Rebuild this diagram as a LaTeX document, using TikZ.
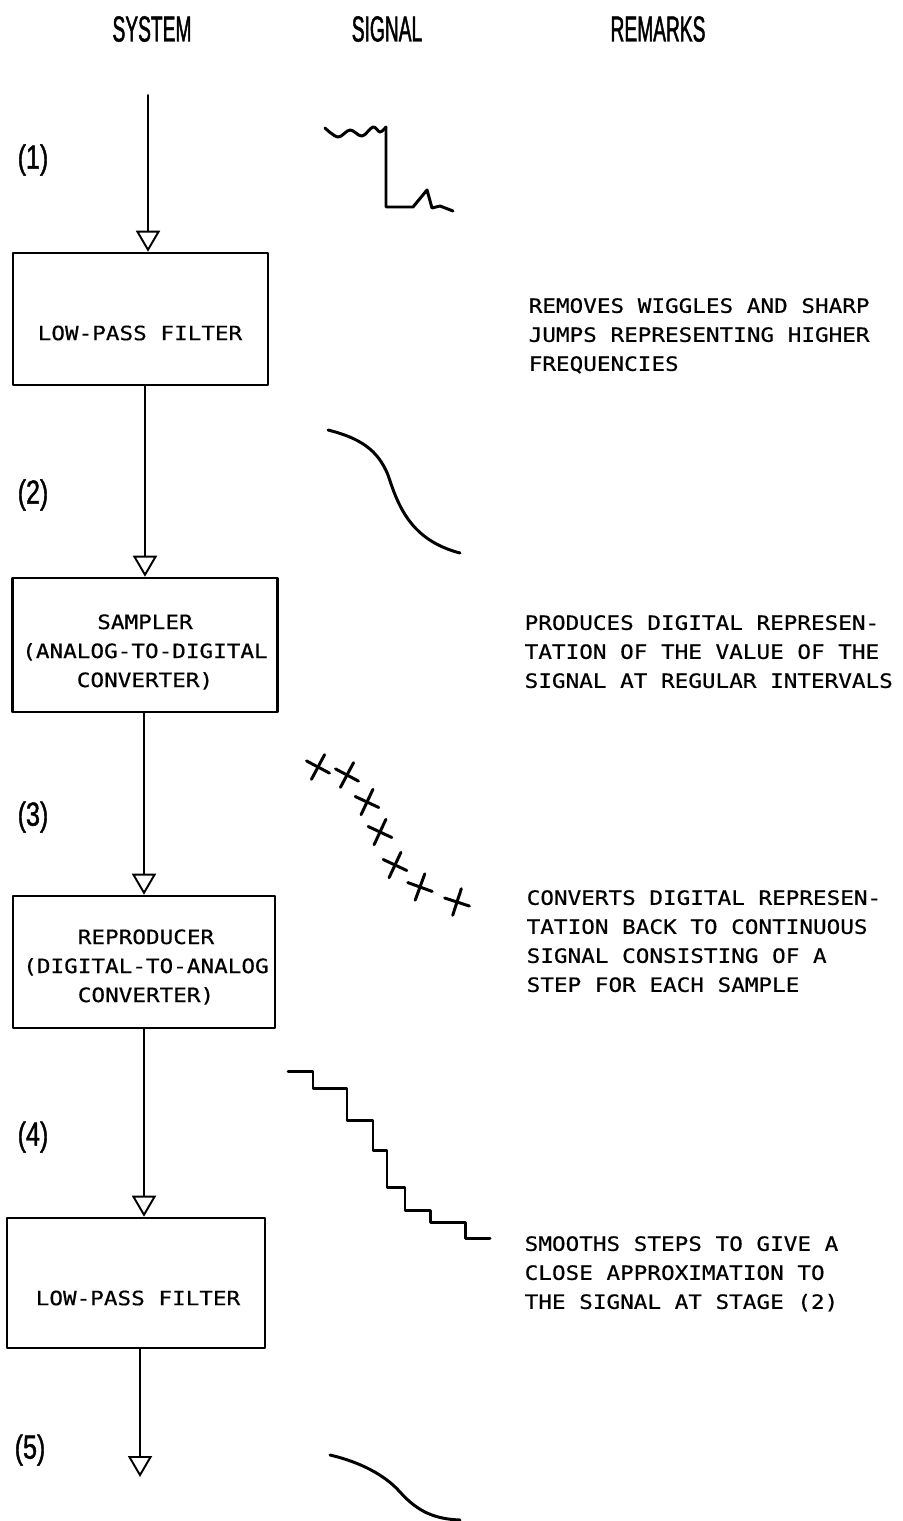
\documentclass[tikz,border=0pt]{standalone}
\usepackage{fontspec}
\usetikzlibrary{arrows.meta,positioning}
\newfontfamily\headfont[FakeStretch=0.53, FakeBold=1.2]{Liberation Sans}
\newfontfamily\stagefont[FakeStretch=0.75, FakeBold=1.2]{Liberation Sans}
\newfontfamily\typefont[FakeStretch=1.15, FakeBold=0.5]{DejaVu Sans Mono}
\begin{document}
\begin{tikzpicture}[x=0.01cm, y=-0.01cm, line cap=round, line join=round,
    head/.style={font=\headfont\fontsize{10.3}{12}\selectfont, inner sep=0pt},
    stage/.style={font=\stagefont\fontsize{9.5}{11}\selectfont, inner sep=0pt},
    unit/.style={draw, line width=0.7pt, inner sep=0pt},
    unittext/.style={font=\typefont\fontsize{5.6}{8.25}\selectfont, align=center, inner sep=0pt},
    remark/.style={font=\typefont\fontsize{5.6}{8.25}\selectfont, align=left, inner sep=0pt, anchor=north west},
    flow/.style={line width=0.55pt, -{Triangle[open, length=2.1mm, width=2.4mm]}},
    sig/.style={line width=0.85pt}]
  \useasboundingbox (0,0) rectangle (903,1521);
  % headings
  \node[head] (hsys) at (152,29) {SYSTEM};
  \node[head] (hsig) at (387,29) {SIGNAL};
  \node[head] (hrem) at (658,29) {REMARKS};
  % system column
  \node[unit, minimum width=2.55cm, minimum height=1.32cm] (lpfa) at (140.5,319) {};
  \node[unit, minimum width=2.65cm, minimum height=1.34cm] (smp) at (145,645) {};
  \node[unit, minimum width=2.62cm, minimum height=1.32cm] (rep) at (144,962) {};
  \node[unit, minimum width=2.58cm, minimum height=1.30cm] (lpfb) at (136,1283) {};
  \node[unittext] (lpfatxt) at (140,333) {LOW-PASS FILTER};
  \node[unittext] (smptxt) at (145,652) {SAMPLER\\(ANALOG-TO-DIGITAL\\CONVERTER)};
  \node[unittext] (reptxt) at (146,967) {REPRODUCER\\(DIGITAL-TO-ANALOG\\CONVERTER)};
  \node[unittext] (lpfbtxt) at (138,1298) {LOW-PASS FILTER};
  \coordinate (in) at (148,95);
  \coordinate (out) at (140,1477);
  \draw[flow] (in) -- (in |- lpfa.north);
  \draw[flow] (smp.north |- lpfa.south) -- (smp.north);
  \draw[flow] (rep.north |- smp.south) -- (rep.north);
  \draw[flow] (rep.south) -- (rep.south |- lpfb.north);
  \draw[flow] (lpfb.south -| out) -- (out);
  \node[stage] (st1) at (33,160) {(1)};
  \node[stage] (st2) at (33,495) {(2)};
  \node[stage] (st3) at (33,817) {(3)};
  \node[stage] (st4) at (33,1137) {(4)};
  \node[stage] (st5) at (30,1450) {(5)};
  % signal column
  \draw[sig] plot[smooth, tension=0.6] coordinates {(325,128) (338,137) (350,130) (362,136) (373,127) (380,132) (386,127)};
  \draw[sig] (386,127) -- (386,207) -- (413,207) -- (427,190) -- (432,208) -- (440,206) -- (453,211);
  \draw[sig] (328,430) .. controls (360,438) and (378,450) .. (388,475) .. controls (398,505) and (410,540) .. (460,553);
  \foreach \cx/\cy/\ca in {318/767/-28, 347/775/-28, 367/802/-25, 380/832/-25, 395/865/-25, 420/887/-20, 457/902/-18}
    \draw[sig, shift={(\cx,\cy)}, rotate=\ca] (-13,0) -- (13,0) (0,-14) -- (0,14);
  \draw[sig] (288,1071) -- (313,1071) -- (313,1088) -- (347,1088) -- (347,1120) -- (373,1120) -- (373,1150) -- (387,1150) -- (387,1187) -- (405,1187) -- (405,1210) -- (430,1210) -- (430,1222) -- (465,1222) -- (465,1238) -- (490,1238);
  \draw[sig] (330,1455) .. controls (360,1462) and (385,1475) .. (400,1492) .. controls (418,1512) and (435,1519) .. (460,1520);
  % remarks column
  \node[remark] (rema) at (528,297.5) {REMOVES WIGGLES AND SHARP\\JUMPS REPRESENTING HIGHER\\FREQUENCIES};
  \node[remark] (remb) at (524,614.5) {PRODUCES DIGITAL REPRESEN-\\TATION OF THE VALUE OF THE\\SIGNAL AT REGULAR INTERVALS};
  \node[remark] (remc) at (526,889.5) {CONVERTS DIGITAL REPRESEN-\\TATION BACK TO CONTINUOUS\\SIGNAL CONSISTING OF A\\STEP FOR EACH SAMPLE};
  \node[remark] (remd) at (524,1235.5) {SMOOTHS STEPS TO GIVE A\\CLOSE APPROXIMATION TO\\THE SIGNAL AT STAGE (2)};
\end{tikzpicture}
\end{document}
